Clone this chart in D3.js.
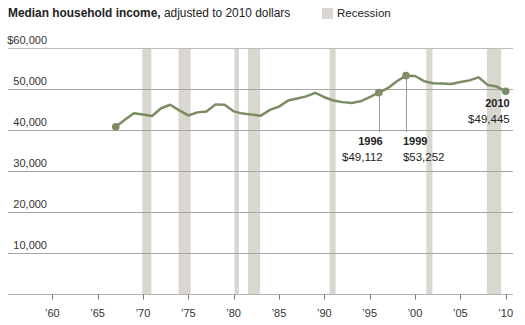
<!DOCTYPE html>
<html>
<head>
<meta charset="utf-8">
<script src="https://cdn.jsdelivr.net/npm/d3@7"></script>
<style>
  body { margin: 0; background: #fff; }
  svg { font-family: "Liberation Sans", Arial, sans-serif; }
</style>
</head>
<body>
<div id="chart"></div>
<script>
// Median household income, 2010 dollars.
const years = [1967, 1968, 1969, 1970, 1971, 1972, 1973, 1974, 1975, 1976,
  1977, 1978, 1979, 1980, 1981, 1982, 1983, 1984, 1985, 1986,
  1987, 1988, 1989, 1990, 1991, 1992, 1993, 1994, 1995, 1996,
  1997, 1998, 1999, 2000, 2001, 2002, 2003, 2004, 2005, 2006,
  2007, 2008, 2009, 2010]
const income = [40800, 42500, 44100, 43800, 43400, 45300, 46150, 44800, 43550, 44300,
  44500, 46250, 46150, 44550, 44000, 43750, 43500, 44900, 45700, 47200,
  47700, 48200, 49050, 48000, 47200, 46800, 46600, 47000, 48000, 49112,
  50200, 51900, 53252, 53164, 51900, 51400, 51350, 51200, 51700, 52100,
  52850, 51000, 50600, 49445]

// Recessions as [start, end] in decimal years.
const recessions = [[1969.92, 1970.92], [1973.92, 1975.25], [1980.08, 1980.58],
  [1981.58, 1982.92], [1990.58, 1991.25], [2001.25, 2001.92], [2007.92, 2009.5]]

const yTicks = [10000, 20000, 30000, 40000, 50000, 60000]
const xTicks = [1960, 1965, 1970, 1975, 1980, 1985, 1990, 1995, 2000, 2005, 2010]

// Labelled points: year, which side the label sits on, whether a leader line is drawn.
const callouts = [
  { year: 1996, side: 'left', leader: true },
  { year: 1999, side: 'right', leader: true },
  { year: 2010, side: 'left', leader: false }
]

const width = 525
const height = 325
const lineColor = '#7b8c65'
const recessionColor = '#dad7d0'

const svg = d3.select('#chart')
  .append('svg')
  .attr('width', width)
  .attr('height', height)

const x = d3.scaleLinear().domain([1960, 2010]).range([52.3, 505.7])
const y = d3.scaleLinear().domain([0, 60000]).range([294, 48])
const gridLeft = 8
const gridRight = 513

/**
 * Title and legend.
 */
const title = svg.append('text')
  .attr('x', 8)
  .attr('y', 17)
  .attr('font-size', 11.9)
  .attr('fill', '#222')
title.append('tspan').attr('font-weight', 'bold').text('Median household income,')
title.append('tspan').text(' adjusted to 2010 dollars')

svg.append('rect')
  .attr('x', 322).attr('y', 8)
  .attr('width', 11).attr('height', 11)
  .attr('fill', recessionColor)
svg.append('text')
  .attr('x', 337).attr('y', 17)
  .attr('font-size', 11.5)
  .attr('fill', '#222')
  .text('Recession')

/**
 * Recession bars.
 */
svg.append('g')
  .selectAll('rect')
  .data(recessions)
  .join('rect')
  .attr('x', d => x(d[0]))
  .attr('width', d => x(d[1]) - x(d[0]))
  .attr('y', y(60000))
  .attr('height', y(0) - y(60000))
  .attr('fill', recessionColor)

/**
 * Gridlines and y labels.
 */
const grid = svg.append('g')
grid.selectAll('line')
  .data(yTicks)
  .join('line')
  .attr('x1', gridLeft)
  .attr('x2', gridRight)
  .attr('y1', d => Math.round(y(d)) + 0.5)
  .attr('y2', d => Math.round(y(d)) + 0.5)
  .attr('stroke', d => d === 60000 ? '#bbb' : '#a5a5a5')
grid.selectAll('text')
  .data(yTicks)
  .join('text')
  .attr('x', 47)
  .attr('y', d => y(d) - 4)
  .attr('text-anchor', 'end')
  .attr('font-size', 11)
  .attr('fill', '#333')
  .text(d => (d === 60000 ? '$' : '') + d3.format(',')(d))

/**
 * X axis.
 */
const axis = svg.append('g')
  .attr('transform', `translate(0,${Math.round(y(0)) + 0.5})`)
axis.append('line')
  .attr('x1', gridLeft)
  .attr('x2', gridRight)
  .attr('stroke', '#b5b5b5')
axis.selectAll('.tick')
  .data(xTicks)
  .join('line')
  .attr('class', 'tick')
  .attr('x1', d => Math.round(x(d)) + 0.5)
  .attr('x2', d => Math.round(x(d)) + 0.5)
  .attr('y1', 0)
  .attr('y2', 5)
  .attr('stroke', '#777')
axis.selectAll('text')
  .data(xTicks)
  .join('text')
  .attr('x', d => x(d))
  .attr('y', 22)
  .attr('text-anchor', 'middle')
  .attr('font-size', 11)
  .attr('fill', '#333')
  .text(d => '\u2019' + String(d).slice(2))

/**
 * Income line.
 */
const points = years.map((yr, i) => ({ year: yr, value: income[i] }))
const line = d3.line()
  .x(d => x(d.year))
  .y(d => y(d.value))

svg.append('path')
  .datum(points)
  .attr('d', line)
  .attr('fill', 'none')
  .attr('stroke', lineColor)
  .attr('stroke-width', 2.5)
  .attr('stroke-linejoin', 'round')

/**
 * Callouts.
 */
const marked = [years[0]].concat(callouts.map(c => c.year))
svg.append('g')
  .selectAll('circle')
  .data(points.filter(p => marked.includes(p.year)))
  .join('circle')
  .attr('cx', d => x(d.year))
  .attr('cy', d => y(d.value))
  .attr('r', 3.8)
  .attr('fill', lineColor)

callouts.forEach(c => {
  const p = points.find(d => d.year === c.year)
  const px = x(p.year)
  const py = y(p.value)
  const top = c.leader ? 145 : py + 16
  if (c.leader) {
    svg.append('line')
      .attr('x1', Math.round(px) + 0.5)
      .attr('x2', Math.round(px) + 0.5)
      .attr('y1', py)
      .attr('y2', 132)
      .attr('stroke', '#999')
  }
  const tx = c.side === 'left' ? px + 4 : px - 3
  const anchor = c.side === 'left' ? 'end' : 'start'
  svg.append('text')
    .attr('x', tx).attr('y', top)
    .attr('text-anchor', anchor)
    .attr('font-size', 11)
    .attr('font-weight', 'bold')
    .attr('fill', '#222')
    .text(p.year)
  svg.append('text')
    .attr('x', tx).attr('y', top + 16)
    .attr('text-anchor', anchor)
    .attr('font-size', 11.5)
    .attr('fill', '#222')
    .text('$' + d3.format(',')(p.value))
})
</script>
</body>
</html>
